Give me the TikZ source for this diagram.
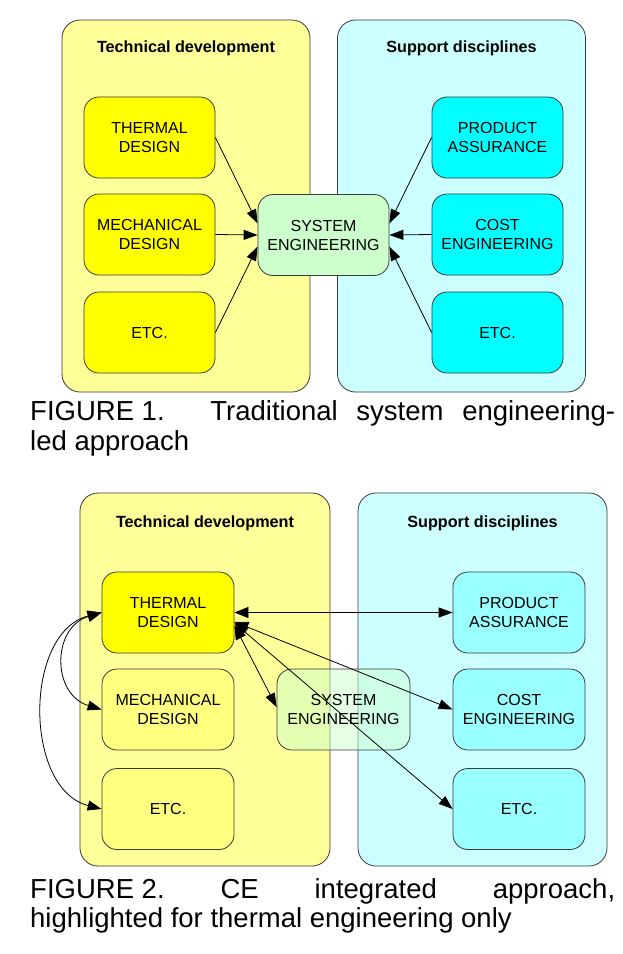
\documentclass[tikz,border=0pt]{standalone}
\usepackage{fontspec}
\setmainfont{Liberation Sans}
\usetikzlibrary{arrows.meta}
\definecolor{paleyellow}{HTML}{FFFF99}
\definecolor{palecyan}{HTML}{CCFFFF}
\definecolor{palegreen}{HTML}{CCFFCC}
\definecolor{fullyellow}{HTML}{FFFF00}
\definecolor{fullcyan}{HTML}{00FFFF}
\definecolor{softyellow}{HTML}{FFFF80}
\definecolor{softcyan}{HTML}{99FFFF}
\definecolor{edgegray}{HTML}{3A3A3A}
\begin{document}
\begin{tikzpicture}[x=1pt,y=-1pt,
    panel/.style={draw=edgegray,line width=0.8pt,rounded corners=18pt,minimum width=248pt,minimum height=372pt,inner sep=0pt},
    paneltitle/.style={anchor=base,inner sep=0pt,font=\fontsize{16.2}{19}\selectfont\bfseries},
    box/.style={draw=edgegray,line width=0.8pt,rounded corners=15pt,minimum width=131pt,minimum height=81pt,inner sep=0pt,align=center,font=\fontsize{16}{19}\selectfont},
    link/.style={line width=0.8pt,-{Triangle[length=14pt,width=10pt]}},
    both/.style={line width=0.8pt,{Triangle[length=14pt,width=11pt]}-{Triangle[length=14pt,width=10pt]}},
    caption/.style={anchor=base west,inner sep=0pt,font=\fontsize{27.5}{30}\selectfont}]
  \useasboundingbox (0,0) rectangle (622,954);

  % figure 1: traditional approach
  \node[panel,fill=paleyellow] (tdev1) at (186,206) {};
  \node[panel,fill=palecyan] (supp1) at (461.5,206) {};
  \node[paneltitle] (tdevtitle1) at (186,52) {Technical development};
  \node[paneltitle] (supptitle1) at (461.5,52) {Support disciplines};

  \node[box,fill=fullyellow] (th1) at (149.5,137.5) {THERMAL\\DESIGN};
  \node[box,fill=fullyellow] (me1) at (149.5,234.5) {MECHANICAL\\DESIGN};
  \node[box,fill=fullyellow] (et1) at (149.5,332.5) {ETC.};
  \node[box,fill=fullcyan] (pa1) at (497.5,137.5) {PRODUCT\\ASSURANCE};
  \node[box,fill=fullcyan] (ce1) at (497.5,234.5) {COST\\ENGINEERING};
  \node[box,fill=fullcyan] (ot1) at (497.5,332.5) {ETC.};
  \node[box,fill=palegreen] (sy1) at (323.5,235) {SYSTEM\\ENGINEERING};

  \draw[link] (th1.east) -- (sy1.170);
  \draw[link] (me1.east) -- (sy1.west);
  \draw[link] (et1.east) -- (sy1.190);
  \draw[link] (pa1.west) -- (sy1.10);
  \draw[link] (ce1.west) -- (sy1.east);
  \draw[link] (ot1.west) -- (sy1.350);

  \node[caption] (cap1a) at (30,420) {\makebox[585pt][s]{\hbox{FIGURE 1.}\hspace{27pt} Traditional system engineering-}};
  \node[caption] (cap1b) at (30,450) {led approach};

  % figure 2: CE approach
  \node[panel,fill=paleyellow,minimum width=250pt,minimum height=373pt] (tdev2) at (205,679.5) {};
  \node[panel,fill=palecyan,minimum width=249pt,minimum height=373pt] (supp2) at (482.5,679.5) {};
  \node[paneltitle] (tdevtitle2) at (205,527) {Technical development};
  \node[paneltitle] (supptitle2) at (482.5,527) {Support disciplines};

  \node[box,fill=fullyellow,minimum width=132pt] (th2) at (168,612.5) {THERMAL\\DESIGN};
  \node[box,fill=softyellow,minimum width=132pt] (me2) at (168,709.5) {MECHANICAL\\DESIGN};
  \node[box,fill=softyellow,minimum width=132pt] (et2) at (168,809) {ETC.};
  \node[box,fill=softcyan,minimum width=132pt] (pa2) at (519,612.5) {PRODUCT\\ASSURANCE};
  \node[box,fill=softcyan,minimum width=132pt] (ce2) at (519,709.5) {COST\\ENGINEERING};
  \node[box,fill=softcyan,minimum width=132pt] (ot2) at (519,809) {ETC.};
  \node[box,fill=palegreen,fill opacity=0.5,text opacity=1,minimum width=133pt] (sy2) at (343.5,709.5) {SYSTEM\\ENGINEERING};

  \draw[both] (th2.east) -- (pa2.west);
  \draw[both] (th2.-8) -- (ce2.west);
  \draw[both] (th2.-9) -- (ot2.west);
  \draw[both] (th2.-11) -- (sy2.178);
  \draw[both] (th2.west) .. controls +(-50,15) and +(-50,-15) .. (me2.west);
  \draw[both] (th2.west) .. controls +(-78,20) and +(-78,-20) .. (et2.west);

  \node[caption] (cap2a) at (30,898) {\makebox[585pt][s]{\hbox{FIGURE 2.} CE integrated approach,}};
  \node[caption] (cap2b) at (30,927) {highlighted for thermal engineering only};
\end{tikzpicture}
\end{document}
